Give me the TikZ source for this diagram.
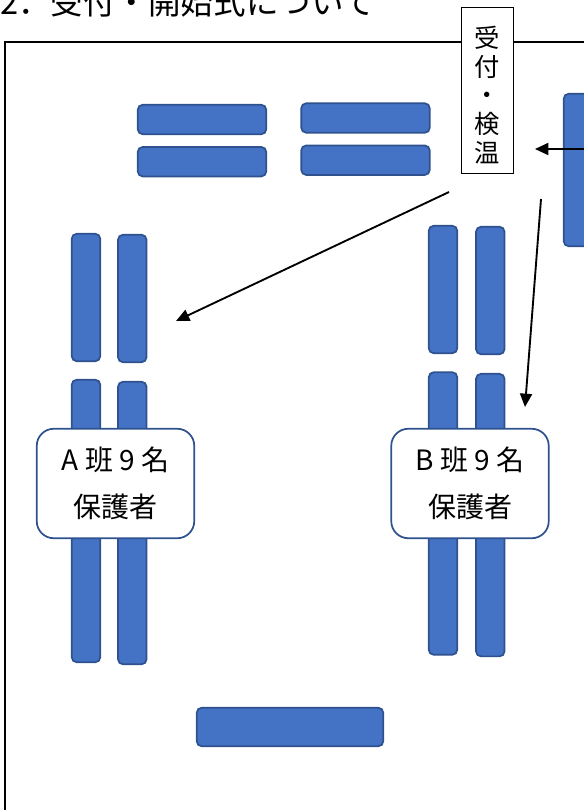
\documentclass[tikz,border=0pt]{standalone}
\usepackage{fontspec}
\setmainfont{Noto Sans CJK JP}
\usetikzlibrary{positioning,arrows.meta}
\definecolor{deskblue}{HTML}{4472C4}
\definecolor{deskline}{HTML}{2F528F}

\tikzset{
  desk/.style={draw=deskline, fill=deskblue, line width=1.3pt, rounded corners=3.75pt, inner sep=0pt},
  deskh/.style={desk, minimum width=96.4pt, minimum height=22.1pt},
  desks/.style={desk, minimum width=21.4pt, minimum height=95.6pt},
  deskl/.style={desk, minimum width=21.4pt, minimum height=211.9pt},
  groupbox/.style={draw=deskline, fill=white, line width=1.3pt, rounded corners=12.75pt, inner sep=0pt,
    minimum width=118.1pt, minimum height=82.1pt, align=center, font=\fontsize{21}{35}\selectfont},
  flow/.style={-{Triangle[length=10pt,width=9pt]}, line width=1.4pt},
}

\begin{document}
\begin{tikzpicture}[x=0.75pt, y=-0.75pt]
    \useasboundingbox (0,0) rectangle (584,810);
    \clip (0,0) rectangle (584,810);
    \node [anchor=base west, inner sep=0pt, font=\fontsize{24.4}{28}\selectfont] (title) at (0,14) {2．受付・開始式について};
    \draw [line width=1.8pt] (5,820) |- (600,42);
    % front desks
    \node [deskh] (t1) at (202,119.5) {};
    \node [deskh, below=8.25pt of t1] (t2) {};
    \node [deskh] (t3) at (365.5,118) {};
    \node [deskh, below=8.25pt of t3] (t4) {};
    \node [desk, minimum width=21.4pt, minimum height=114.4pt] (side) at (578,170) {};
    % A group
    \node [desks] (a1) at (86,297.5) {};
    \node [desks, right=12pt of a1, yshift=-0.75pt] (a2) {};
    \node [deskl] (a3) at (86,521) {};
    \node [deskl, right=12pt of a3, yshift=-1.5pt] (a4) {};
    % B group
    \node [desks] (b1) at (443,289.5) {};
    \node [desks, right=12.75pt of b1, yshift=-0.75pt] (b2) {};
    \node [deskl] (b3) at (443,513.5) {};
    \node [deskl, right=12.75pt of b3, yshift=-1.2pt] (b4) {};
    \node [desk, minimum width=139.9pt, minimum height=28.9pt] (front) at (290,727) {};
    \node [groupbox] (groupA) at (115.5,483.5) {A 班 9 名\\保護者};
    \node [groupbox] (groupB) at (470,483.5) {B 班 9 名\\保護者};
    % reception
    \node [draw, fill=white, line width=0.9pt, inner sep=0pt, minimum width=39pt, minimum height=124.5pt] (uke) at (487.5,90.5) {};
    \node [align=center, inner sep=0pt, font=\fontsize{19}{21.5}\selectfont] (uketext) at (487.5,95) {受\\付\\・\\検\\温};
    \coordinate (door) at (590,149);
    \coordinate (doortip) at (535,149);
    \coordinate (toAfrom) at (449,192);
    \coordinate (toA) at (176,321);
    \coordinate (toBfrom) at (541,199);
    \coordinate (toB) at (525,407);
    \draw [flow] (door) -- (doortip);
    \draw [flow] (toAfrom) -- (toA);
    \draw [flow] (toBfrom) -- (toB);
\end{tikzpicture}
\end{document}
